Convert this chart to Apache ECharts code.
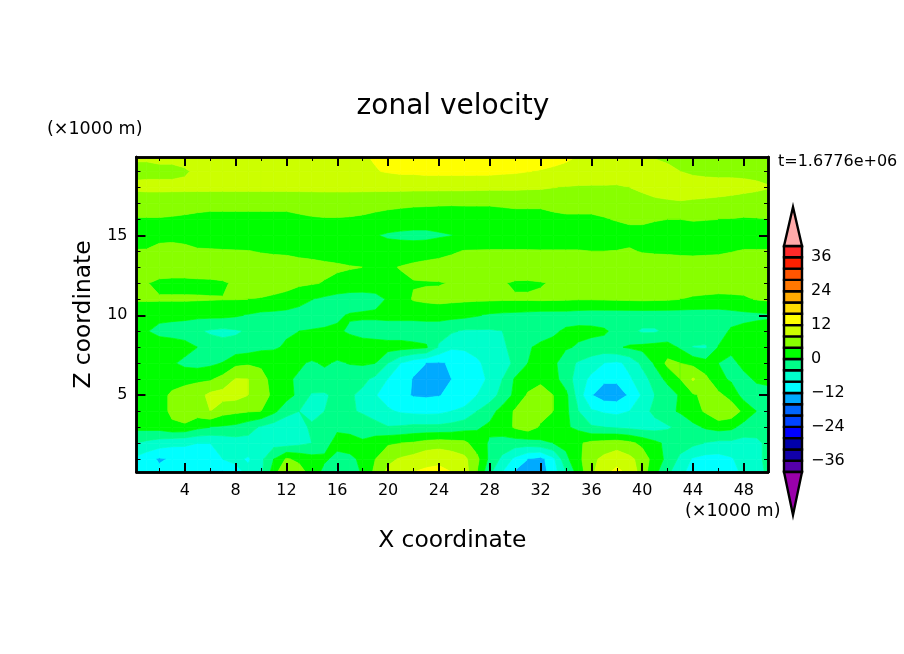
<!DOCTYPE html>
<html>
<head>
<meta charset="utf-8">
<title>zonal velocity</title>
<script src="https://cdn.jsdelivr.net/npm/echarts@6/dist/echarts.min.js"></script>
<style>
html, body { margin: 0; padding: 0; background: #fff; }
#chart { width: 904px; height: 654px; }
</style>
</head>
<body>
<div id="chart"></div>
<script>
// grid nodes, x and z in km
var xCoords = [0.2,1,2,3,4,5,6,7,8,9,10,11,12,13,14,15,16,17,18,19,20,21,22,23,24,25,26,27,28,29,30,31,32,33,34,35,36,37,38,39,40,41,42,43,44,45,46,47,48,49,49.9];
var zCoords = [19.9, 19, 18, 17, 16, 15, 14, 13, 12, 11, 10, 9, 8, 7, 6, 5, 4, 3, 2, 1, 0.2];

// velocity, one row per zCoords entry
var uRows = [
	[8.5,8.5,9,9,9.5,10,10,10,10,10,10,10.5,10.5,10.5,10.5,11,11,11,11.7,12.3,12.7,13,13,13.5,13.5,13.5,13.5,13.5,13.5,13.5,13.5,13.5,13.5,13,12.3,11.9,11,10.5,10,9,8.2,7.8,7.5,7.2,7,7,7,7,7,7,7.5],
	[7,7,7,7,7.5,8.8,9.5,10,10,10,10,10.5,10.5,10.5,10.5,10.5,11,11,11.5,11.8,12.3,12.7,12.7,13,13,13,13,13,13,12.7,12.5,12.1,11.8,11.5,11.5,11,10.5,10.5,10,10,9.5,9.2,8.6,8,7.5,7.2,7,7,7,7,7],
	[8.8,9,9,9,9,9,9,9,9,9,9,9,9,9,9,9,9,9,9,9,9,9,9,9,9,9,9,8.9,8.8,8.8,8.8,8.6,8.5,8.1,7.8,7.6,7.6,7.6,7.6,8,8.5,9,9.5,9.5,9.5,9.5,9.5,9.5,9.2,8.7,8.2],
	[5.5,5.5,5.5,5.3,5.2,5.1,5,5,5,5,5,5,5,5.2,5.3,5.5,5.5,5.5,5.3,5.2,5,4.8,4.6,4.5,4.4,4.3,4.3,4.3,4.3,4.4,4.5,4.5,4.5,4.8,5,5,5,5.2,5.5,6.2,7,7.4,7.5,7.7,7.5,7.3,7,6.5,6,6,6],
	[3.8,3.8,3.8,3.7,3.5,3.2,3,3,3,3,3,3,3,3.4,3.7,3.8,3.8,3.7,3.5,3,2.5,2.2,2,2,2,2.2,2.5,2.5,2.5,2.8,3,3,3,3.3,3.5,3.5,3.5,3.8,4.2,4.5,4.5,4.2,4,4,4.2,4.1,4,3.9,3.7,3.8,4],
	[2.5,2.8,3.5,3.6,3.5,3.2,3,2.5,2,2,2,2,2,2,2,2,2,1.5,1,0.2,-0.5,-0.8,-1,-1,-0.5,-0.1,1,1,1.5,1.5,1.5,1.5,2,2,2,2,2,2.3,2.5,3,3,2.7,2.5,2.5,2.5,2.5,2.5,2.5,2.5,2.5,2.5],
	[4.2,4.2,4.5,4.5,4.4,4.2,4.2,4.2,4.2,4.1,3.8,3.6,3.5,3.2,3,2.8,2.5,2.2,2,1.8,1.8,1.9,2,2.4,2.8,3.5,4.2,4.3,4.3,4.3,4.3,4.3,4.2,4.2,4.2,4.2,4,4,4.1,4.3,3.8,3.6,3.5,3.3,3.2,3.4,3.6,3.9,4.2,4.2,4.2],
	[5.5,6,6.5,6,6,6,6,6,6,5.9,5.8,5.6,5.5,5.2,5,4.7,4.5,4.2,4,3.6,3.5,4.2,4.8,5.2,5.5,5.8,6,6.2,6.5,6.5,6.5,6.3,6,6,6,6,6,6,6,6,6,6,6,6,6,5.8,5.5,5.5,5.5,5.5,5.5],
	[5,4.2,3,3,3,3.2,3.3,3.6,4.5,5,5.5,5.2,5,4.6,4.3,3.8,3,2.7,2.5,2.5,2.5,3.2,3.8,3.8,3.8,4.2,4.5,4.8,5,4.3,3.5,3.5,3.8,4.3,5,5.2,5.5,5.8,6,6,6,6,6,6,6,5.8,5.5,5.5,5.5,5.2,5],
	[4.5,4.5,4.4,4.4,4.4,4.3,4.2,4.1,4.1,4,3.8,3.5,3,1.5,0.1,-0.8,-1.5,-2,-2,-1.5,0.5,2.5,4.3,4.8,5,4.8,4.6,4.5,4.5,4.4,4.4,4.4,4.5,4.4,4.3,4.2,4.2,4.3,4.4,4.5,4.6,4.5,4.4,4,3.5,3.3,3.2,3.3,3.5,4.2,4.5],
	[0.5,0.8,1,1,1,1,1,1,0.5,-0.3,-1,-1.2,-1.5,-1.8,-2,-1.5,-0.5,0.3,0.6,0.8,1,1,1,1.2,1.5,1.2,1,0.3,-0.5,-0.8,-1,-1.2,-1.5,-1.5,-1.5,-1.8,-2,-2,-2,-2,-2,-2,-2,-2,-2,-2,-2,-1.5,-1,-0.8,-0.5],
	[0.5,0.2,-1,-1.5,-2,-3.5,-4.5,-5,-4.5,-3.5,-2.5,-1.5,-0.5,0,0.3,0.5,0.5,-0.5,-1.5,-2,-2,-2,-2,-2,-2.5,-3.5,-4.5,-4.5,-4.5,-4,-3.5,-2.5,-2,-0.5,0.5,1,1,0.5,-1,-3,-4.5,-4.5,-3,-2.5,-2,-1.5,-1.5,0.5,1,1.5,1.5],
	[2,2,2,2,1.5,0,-2,-2.5,-2.5,-2,-1,-0.5,0.5,2,2.5,2,2,2,2,2,1.5,1.5,1,0.5,-4.5,-7.5,-7.5,-7,-5.5,-4.5,-3,-0.5,1,1,0.5,-0.5,-1.5,-1.5,-0.5,0.5,1,1.5,1.5,-0.5,-4.2,-4.5,0.2,1,1.5,2,2],
	[2,1.5,1,0.5,-1,-1.5,-0.8,0.2,3,3.5,3.5,2.5,1,0.5,-0.5,0.5,-0.5,0.2,0.5,0,-4,-8,-10.5,-12,-12.5,-11.5,-10,-8.5,-7,-5,-3.5,0,1,1,-2.5,-4.5,-6,-8,-8.8,-7,-3,0.5,5,4,3,1.5,0,-1,1,2,2],
	[2,2,2.5,2.8,3,3.3,3.5,5.5,8.2,8,5,3,0.5,-0.5,-1,-1.5,-2,-2.5,-3,-5,-8.2,-10,-12.3,-13,-13,-12,-11,-9,-7.5,-4,0.5,2,3,1.5,-2,-6,-9,-11.3,-11.3,-8.5,-6,-2,1,4,8.5,5,1,-0.5,-1,0.5,1],
	[2,2.5,3,4.5,5.5,6.5,9,9.5,9.5,8,5,3.5,1.5,-1,-4.5,-4.5,-3,-3.5,-5,-7.8,-9.5,-11,-12.3,-12.5,-12.2,-11,-10.5,-8,-6,-2.5,1,4.5,6,4,1,-6,-11.8,-14,-14,-11.5,-7.5,-4,-2,0.5,3.5,5,5,2.5,-1.5,-1.5,-1.5],
	[0.5,1.5,2,5,7,6,8,5.5,4.8,4.3,4,1,-2.5,-4,-5,-4,-3,-3.5,-4.5,-6,-7.5,-8.5,-9,-9.2,-9,-8,-7,-4,-1.5,1.5,4.5,5.5,5.5,4,1,-4,-7.5,-8.5,-9,-8,-5.5,-3,-1,0.5,2.5,4.5,7.5,6.5,3,0,-1],
	[1,1.3,1.5,3,3,1,0,-0.5,-1,-2.5,-4.5,-6,-7,-5,-3.5,-2.5,-0.5,-0.8,-1.5,-2.5,-3.8,-3.5,-3,-3,-3,-2.5,-1.5,-0.5,0.8,2,4.5,6,3.5,2,0.5,-1,-3.5,-4,-4.5,-5,-5.5,-5.5,-4.5,-3,-1,0.5,1.5,1,-1.5,-2,-2],
	[-4,-5,-6,-7,-7.5,-8,-8,-7,-6,-5.5,-5,-5.5,-6,-5,-4,-1,1,1,0.5,2,3.5,4,4.5,5.5,6,5.5,5,2,-0.5,-1.5,-2,-2,-1,0,1,3.5,5,5.5,6,5,3,1,-1,-2,-3,-4.2,-5,-5,-5.5,-5,-3],
	[-9,-10.5,-12.5,-11.5,-10,-9,-9,-8,-7,-8.5,-5,0,4.5,3,1.5,0.5,-1,-0.5,0.5,4,7,8.5,9.5,11,11.5,10.5,9,5,-1,-5,-9,-12,-13.5,-9,-1,3,7,9,10.5,9,6.5,2,-1,-5,-8.5,-9.5,-9.5,-8.5,-6,-4.5,-3.5],
	[-10,-10.5,-11,-11,-10.5,-11,-12.5,-12.5,-9.5,-7,-5,2,8.5,6,2,-1,-5,-2,0.5,5,9,11,12,12.5,12.5,12,10,4,-3,-8,-12.5,-14,-14,-10,-4,2,7,11,13,11,6,1,-3,-7,-9.5,-11,-11,-9.5,-7,-5,-3.5]
];

// contour levels and the colour of each band, low to high
var levels = [-40,-36,-32,-28,-24,-20,-16,-12,-8,-4,0,4,8,12,16,20,24,28,32,36,40];
var bandColors = ['#5500aa','#1100aa','#0000aa','#0000ff','#0044ff','#0066ff','#00aaff','#00ffff','#00ffcc','#00ff88',
	'#00ff00','#88ff00','#ccff00','#ffff00','#ffdd00','#ffaa00','#ff7700','#ff5500','#ff2000','#ff2a2a'];
var overColor = '#ffaaaa';
var underColor = '#9900aa';

var xRange = [0.2, 49.9];
var zRange = [0.2, 19.9];
var xMajor = [4, 8, 12, 16, 20, 24, 28, 32, 36, 40, 44, 48];
var xMinor = [2, 6, 10, 14, 18, 22, 26, 30, 34, 38, 42, 46];
var zMajor = [5, 10, 15];
var zMinor = [1, 2, 3, 4, 6, 7, 8, 9, 11, 12, 13, 14, 16, 17, 18, 19];
var barLabels = [-36, -24, -12, 0, 12, 24, 36];
var barRange = [-55.2, 53.8];

var fontName = '"DejaVu Sans"';

// keep the part of a quad on one side of a level, values linear along each edge
function clipAt(poly, level, keepAbove) {
	var out = [];
	for (var i = 0; i < poly.length; i++) {
		var a = poly[i], b = poly[(i + 1) % poly.length];
		var aIn = keepAbove ? a[2] >= level : a[2] <= level;
		var bIn = keepAbove ? b[2] >= level : b[2] <= level;
		if (aIn) out.push(a);
		if (aIn !== bIn) {
			var t = (level - a[2]) / (b[2] - a[2]);
			out.push([a[0] + t * (b[0] - a[0]), a[1] + t * (b[1] - a[1]), level]);
		}
	}
	return out;
}

var cells = [];
for (var r = 0; r < zCoords.length - 1; r++) {
	for (var c = 0; c < xCoords.length - 1; c++) {
		cells.push([xCoords[c], zCoords[r + 1], xCoords[c + 1], zCoords[r],
			uRows[r + 1][c], uRows[r + 1][c + 1], uRows[r][c + 1], uRows[r][c]]);
	}
}

function renderCell(params, api) {
	var x0 = api.value(0), z0 = api.value(1), x1 = api.value(2), z1 = api.value(3);
	var quad = [[x0, z0, api.value(4)], [x1, z0, api.value(5)], [x1, z1, api.value(6)], [x0, z1, api.value(7)]];
	var children = [];
	for (var b = 0; b < bandColors.length; b++) {
		var poly = clipAt(clipAt(quad, levels[b], true), levels[b + 1], false);
		if (poly.length < 3) continue;
		children.push({
			type: 'polygon',
			shape: { points: poly.map(function(p) { return api.coord([p[0], p[1]]); }) },
			style: { fill: bandColors[b], stroke: bandColors[b], lineWidth: 0.7 }
		});
	}
	return { type: 'group', children: children };
}

var barBoxes = [];
for (var k = 0; k < bandColors.length; k++) {
	barBoxes.push([levels[k], levels[k + 1], k]);
}

function renderBox(params, api) {
	var p0 = api.coord([0, api.value(0)]), p1 = api.coord([1, api.value(1)]);
	return {
		type: 'rect',
		shape: { x: p0[0], y: p1[1], width: p1[0] - p0[0], height: p0[1] - p1[1] },
		style: { fill: bandColors[api.value(2)], stroke: '#000', lineWidth: 2.4 }
	};
}

function renderTip(params, api) {
	var base = api.value(0), tip = api.value(1);
	return {
		type: 'polygon',
		shape: { points: [api.coord([0, base]), api.coord([1, base]), api.coord([0.5, tip])] },
		style: { fill: api.value(2) > 0 ? overColor : underColor, stroke: '#000', lineWidth: 2.4 }
	};
}

function frameAxis(range, position, ticks, length, extra) {
	var axis = {
		type: 'value', gridIndex: 0, position: position, min: range[0], max: range[1], z: 10,
		axisLine: { show: true, onZero: false, lineStyle: { color: '#000', width: 2.5 } },
		axisTick: { show: true, inside: true, length: length, customValues: ticks, lineStyle: { color: '#000', width: length > 5 ? 2 : 1 } },
		axisLabel: { show: false },
		splitLine: { show: false }
	};
	return Object.assign(axis, extra);
}

var myChart = echarts.init(document.getElementById('chart'));
myChart.setOption({
	animation: false,
	backgroundColor: '#fff',
	textStyle: { fontFamily: fontName, color: '#000' },
	title: {
		text: 'zonal velocity', left: 448, top: 88, textAlign: 'center',
		textStyle: { fontFamily: fontName, fontWeight: 'normal', fontSize: 28, color: '#000' }
	},
	grid: [
		{ left: 136.5, right: 904 - 768, top: 157, bottom: 654 - 472 },
		{ left: 784, right: 904 - 802, top: 207, bottom: 654 - 515 }
	],
	xAxis: [
		frameAxis(xRange, 'bottom', xMajor, 9, {
			name: 'X coordinate', nameLocation: 'middle', nameGap: 57,
			nameTextStyle: { fontFamily: fontName, fontSize: 23.4, color: '#000' },
			axisLabel: { show: true, customValues: xMajor, margin: 11, fontFamily: fontName, fontSize: 16, color: '#000' }
		}),
		frameAxis(xRange, 'top', xMajor, 9),
		frameAxis(xRange, 'top', xMinor, 4),
		frameAxis(xRange, 'bottom', xMinor, 4),
		{ type: 'value', gridIndex: 1, min: 0, max: 1, show: false }
	],
	yAxis: [
		frameAxis(zRange, 'left', zMajor, 9, {
			name: 'Z coordinate', nameLocation: 'middle', nameGap: 41,
			nameTextStyle: { fontFamily: fontName, fontSize: 23.4, color: '#000' },
			axisLabel: { show: true, customValues: zMajor, margin: 9, fontFamily: fontName, fontSize: 16, color: '#000' }
		}),
		frameAxis(zRange, 'right', zMajor, 9),
		frameAxis(zRange, 'right', zMinor, 4),
		frameAxis(zRange, 'left', zMinor, 4),
		{
			type: 'value', gridIndex: 1, position: 'right', min: barRange[0], max: barRange[1],
			axisLine: { show: false }, axisTick: { show: false }, splitLine: { show: false },
			axisLabel: {
				show: true, customValues: barLabels, margin: 9, fontFamily: fontName, fontSize: 16, color: '#000',
				formatter: function(v) { return String(v).replace('-', '\u2212'); }
			}
		}
	],
	series: [
		{
			type: 'custom', xAxisIndex: 0, yAxisIndex: 0, silent: true, clip: true,
			encode: { x: [0, 2], y: [1, 3] }, data: cells, renderItem: renderCell, z: 1
		},
		{
			type: 'custom', xAxisIndex: 4, yAxisIndex: 4, silent: true, clip: false,
			encode: { y: [0, 1] }, data: barBoxes, renderItem: renderBox
		},
		{
			type: 'custom', xAxisIndex: 4, yAxisIndex: 4, silent: true, clip: false,
			encode: { y: [0, 1] }, data: [[levels[20], barRange[1], 1], [levels[0], barRange[0], 0]], renderItem: renderTip
		}
	],
	graphic: [
		{ type: 'text', left: 47, top: 120, style: { text: '(\u00d71000 m)', font: '17.5px ' + fontName, fill: '#000' } },
		{ type: 'text', left: 685, top: 502, style: { text: '(\u00d71000 m)', font: '17.5px ' + fontName, fill: '#000' } },
		{ type: 'text', left: 778, top: 154, style: { text: 't=1.6776e+06', font: '16px ' + fontName, fill: '#000' } }
	]
});
</script>
</body>
</html>
